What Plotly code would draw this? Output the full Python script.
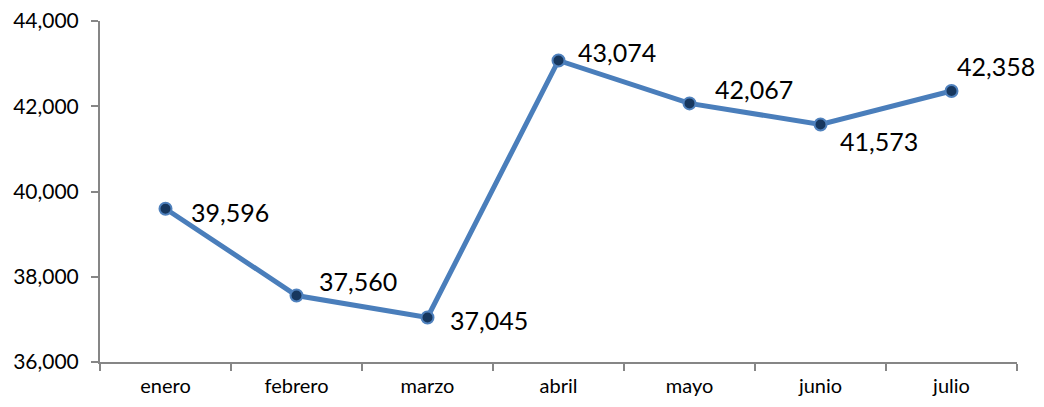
import plotly.graph_objects as go

months = ["enero", "febrero", "marzo", "abril", "mayo", "junio", "julio"]
values = [39596, 37560, 37045, 43074, 42067, 41573, 42358]
y_ticks = [36000, 38000, 40000, 42000, 44000]

# label offsets (pixels) for data labels
label_dx = [23, 20, 20, 17, 23, 17, 3]
label_dy = [-3, 15, -3, 8, 14, -17, 25]

fig = go.Figure()
fig.add_trace(go.Scatter(
    x=months, y=values, mode="lines+markers",
    line=dict(color="#4A7EBB", width=5),
    marker=dict(size=12, color="#17375E", line=dict(color="#4F81BD", width=2)),
    showlegend=False, hoverinfo="skip", cliponaxis=False,
))

for m, v, dx, dy in zip(months, values, label_dx, label_dy):
    fig.add_annotation(
        x=m, y=v, text=f"{v:,}", showarrow=False,
        xanchor="left", yanchor="middle", xshift=dx, yshift=dy,
        font=dict(family="Lato", size=25, color="#000000"),
    )

# page body has an 8px margin, so the figure is sized to fit the window exactly
fig.update_layout(
    width=1028, height=391,
    margin=dict(l=92, r=19, t=13, b=37, autoexpand=False),
    plot_bgcolor="white", paper_bgcolor="white",
    font=dict(family="Lato", size=18, color="#000000"),
)
fig.update_xaxes(
    type="category", range=[-0.5, 6.5], showgrid=False, automargin=False,
    showline=True, linecolor="#868686", linewidth=2,
    ticks="outside", ticklen=7, tickcolor="#868686", tickwidth=2,
    tickson="boundaries", tickfont=dict(size=20), ticklabelstandoff=5,
    ticklabeloverflow="allow",
)
fig.update_yaxes(
    range=[36000, 44000], tickvals=y_ticks, automargin=False,
    ticktext=[f"{t:,}" for t in y_ticks], showgrid=False, zeroline=False,
    showline=True, linecolor="#868686", linewidth=2,
    ticks="outside", ticklen=7, tickcolor="#868686", tickwidth=2,
    tickfont=dict(size=21), ticklabelstandoff=8, ticklabeloverflow="allow",
)

fig.write_html("out.html")
